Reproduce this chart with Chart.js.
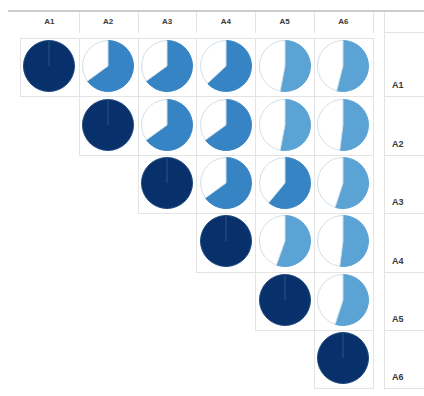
<!DOCTYPE html>
<html><head><meta charset="utf-8">
<script src="https://cdn.jsdelivr.net/npm/chart.js@4.4.1/dist/chart.umd.min.js"></script>
<style>
html,body{margin:0;padding:0;background:#fff}
body{width:424px;height:396px;overflow:hidden;position:relative;font-family:"Liberation Sans",Arial,sans-serif}
.a{position:absolute;box-sizing:border-box}
.hl{background:#e3e3e3;height:1px}
.vl{background:#e3e3e3;width:1px}
.cell{border:1px solid #e4e4e4}
.lab{font-weight:bold;color:#3a3a3a;font-size:8px;text-align:center}
.rlab{font-weight:bold;color:#3a3a3a;font-size:9px}
canvas{display:block}
</style></head>
<body>
<script>
// ---- data ----
const labels = ['A1', 'A2', 'A3', 'A4', 'A5', 'A6'];
const rowA1 = [1, 0.65, 0.65, 0.63, 0.53, 0.54];
const rowA2 = [null, 1, 0.65, 0.65, 0.53, 0.52];
const rowA3 = [null, null, 1, 0.65, 0.61, 0.55];
const rowA4 = [null, null, null, 1, 0.555, 0.52];
const rowA5 = [null, null, null, null, 1, 0.55];
const rowA6 = [null, null, null, null, null, 1];
const rows = [rowA1, rowA2, rowA3, rowA4, rowA5, rowA6];

// ---- layout / style ----
const X0 = 20, CW = 58.8, Y0 = 38, RH = 58.4, RX = 384;
const navy = '#08306b', mid = '#3784c4', light = '#5ba3d5', edge = '#cfdee9';
const body = document.body;
function el(cls, css, txt) {
  const d = document.createElement('div');
  d.className = 'a ' + cls;
  Object.assign(d.style, css);
  if (txt) d.textContent = txt;
  body.appendChild(d);
  return d;
}
// top rule
el('', {left: '8px', top: '10px', width: '416px', height: '2px', background: '#cccccc'});
// header separators
for (let i = 1; i <= 6; i++) {
  el('vl', {left: Math.round(X0 + i * CW) + 'px', top: '12px', height: '21px'});
}
// right label column lines
el('vl', {left: RX + 'px', top: '12px', height: '378px'});
el('hl', {left: RX + 'px', top: '32px', width: (424 - RX) + 'px'});
for (let r = 1; r <= 6; r++) {
  el('hl', {left: RX + 'px', top: Math.round(Y0 + r * RH) + 'px', width: (424 - RX) + 'px'});
}
// column labels
labels.forEach((t, i) => {
  el('lab', {left: (X0 + i * CW) + 'px', top: '17px', width: CW + 'px', lineHeight: '10px'}, t);
});
// row labels
labels.forEach((t, r) => {
  el('rlab', {left: '392px', top: (Y0 + (r + 1) * RH - 16) + 'px', lineHeight: '10px'}, t);
});
// cells with pies
rows.forEach((row, r) => {
  row.forEach((v, c) => {
    if (v === null) return;
    const cx = X0 + c * CW, cy = Y0 + r * RH;
    el('cell', {left: Math.round(cx) + 'px', top: Math.round(cy) + 'px',
      width: Math.round(cx + CW) - Math.round(cx) + 1 + 'px',
      height: Math.round(cy + RH) - Math.round(cy) + 1 + 'px'});
    const box = el('', {left: Math.round(cx + CW / 2 - 26) + 'px', top: Math.round(cy + RH / 2 - 27) + 'px', width: '52px', height: '52px'});
    const cv = document.createElement('canvas');
    cv.width = 52; cv.height = 52;
    box.appendChild(cv);
    const col = r === c ? navy : (v >= 0.6 ? mid : light);
    new Chart(cv, {
      type: 'pie',
      data: {
        labels: [labels[r] + '-' + labels[c], ''],
        datasets: [{
          data: [v, 1 - v],
          backgroundColor: [col, '#ffffff'],
          borderColor: [r === c ? '#1f4a7e' : col, edge],
          borderWidth: 1
        }]
      },
      options: {
        responsive: false,
        animation: false,
        layout: {padding: 0},
        plugins: {legend: {display: false}, tooltip: {enabled: false}}
      }
    });
  });
});
</script>
</body></html>
